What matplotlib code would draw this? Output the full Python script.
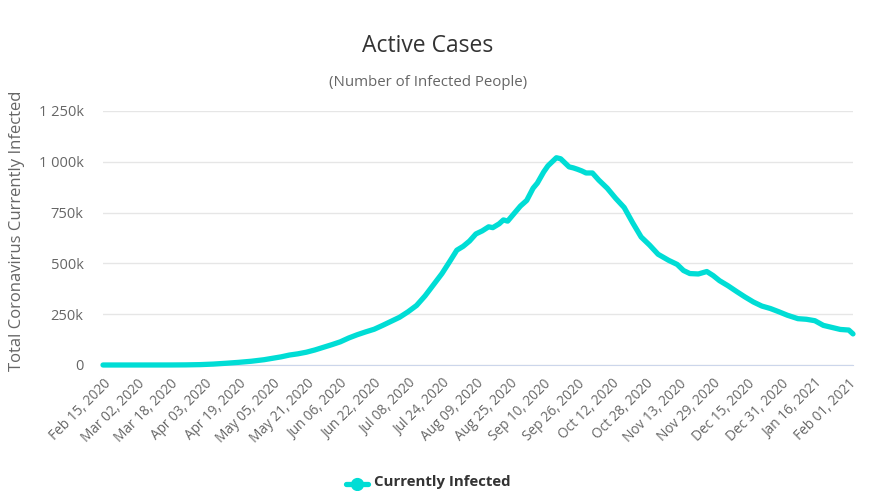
import datetime as dt
import matplotlib
matplotlib.use('Agg')
from matplotlib import pyplot as plt
from matplotlib.lines import Line2D
from matplotlib.transforms import ScaledTranslation

dates = [
    "2020-02-15", "2020-03-01", "2020-03-10", "2020-03-18", "2020-03-25",
    "2020-04-01", "2020-04-07", "2020-04-13", "2020-04-19", "2020-04-25",
    "2020-05-01", "2020-05-05", "2020-05-09", "2020-05-13", "2020-05-17",
    "2020-05-21", "2020-05-25", "2020-05-29", "2020-06-02", "2020-06-06",
    "2020-06-10", "2020-06-14", "2020-06-18", "2020-06-22", "2020-06-26",
    "2020-06-30", "2020-07-04", "2020-07-08", "2020-07-12", "2020-07-16",
    "2020-07-20", "2020-07-24", "2020-07-28", "2020-07-31", "2020-08-03",
    "2020-08-06", "2020-08-09", "2020-08-12", "2020-08-15", "2020-08-17",
    "2020-08-20", "2020-08-22", "2020-08-24", "2020-08-27", "2020-08-30",
    "2020-09-02", "2020-09-05", "2020-09-07", "2020-09-10", "2020-09-12",
    "2020-09-14", "2020-09-16", "2020-09-18", "2020-09-20", "2020-09-22",
    "2020-09-24", "2020-09-26", "2020-09-28", "2020-09-30", "2020-10-03",
    "2020-10-06", "2020-10-10", "2020-10-14", "2020-10-18", "2020-10-22",
    "2020-10-26", "2020-10-30", "2020-11-03", "2020-11-08", "2020-11-12",
    "2020-11-15", "2020-11-18", "2020-11-22", "2020-11-26", "2020-11-29",
    "2020-12-02", "2020-12-06", "2020-12-10", "2020-12-14", "2020-12-18",
    "2020-12-22", "2020-12-26", "2020-12-30", "2021-01-03", "2021-01-08",
    "2021-01-12", "2021-01-16", "2021-01-20", "2021-01-24", "2021-01-28",
    "2021-02-01", "2021-02-03",
]
active_k = [
    0.003, 0.003, 0.05, 0.15, 0.6,
    1.9, 4.5, 8.5, 13, 18.5,
    26, 33, 40, 49, 55,
    63, 74, 87, 100, 114,
    133, 149, 163, 176, 195,
    215, 235, 262, 293, 340,
    395, 450, 515, 565, 584,
    610, 645, 660, 680, 676,
    695, 714, 708, 745, 782,
    810, 870, 895, 950, 980,
    1000, 1020, 1015, 995, 975,
    970, 963, 955, 945, 945,
    910, 870, 820, 775, 700,
    630, 590, 545, 515, 495,
    465, 450, 448, 460, 440,
    415, 390, 362, 335, 310,
    290, 278, 262, 245, 228,
    225, 218, 195, 185, 175,
    172, 153,
]
y_ticks = [0, 250, 500, 750, 1000, 1250]
y_labels = ["0", "250k", "500k", "750k", "1 000k", "1 250k"]

plt.rcParams['font.family'] = ['Open Sans', 'DejaVu Sans']

x = [dt.datetime.strptime(d, "%Y-%m-%d") for d in dates]
start = x[0]
tick_dates = [start + dt.timedelta(days=16 * i) for i in range(23)]

fig = plt.figure(figsize=(8.85, 4.91), dpi=100)
ax = fig.add_axes([103 / 885, 1 - 365 / 491, 750 / 885, 254 / 491])

ax.plot(x, active_k, color="#00ddd5", lw=3.8, solid_joinstyle="round",
        solid_capstyle="round", zorder=3, clip_on=False)

ax.set_xlim(start, x[-1])
ax.set_ylim(0, 1250)
ax.set_yticks(y_ticks)
ax.set_yticklabels(y_labels)
ax.set_xticks(tick_dates)
ax.set_xticklabels([d.strftime("%b %d, %Y") for d in tick_dates],
                   rotation=45, ha="right", rotation_mode="anchor")
shift = ScaledTranslation(-5 / 100, 0, fig.dpi_scale_trans)
for lbl in ax.get_xticklabels():
    lbl.set_transform(lbl.get_transform() + shift)

for s in ["top", "right", "left"]:
    ax.spines[s].set_visible(False)
ax.spines["bottom"].set_color("#ccd6eb")
ax.grid(axis="y", color="#e6e6e6", lw=1)
ax.set_axisbelow(True)
ax.tick_params(axis="both", length=0, colors="#666666")
ax.tick_params(axis="x", pad=8, labelsize=9.8)
ax.tick_params(axis="y", pad=14, labelsize=10.5)

ax.set_ylabel("Total Coronavirus Currently Infected", color="#666666",
              fontsize=12)
ax.yaxis.set_label_coords(-78 / 750, 0.53)

cx = 428 / 885
fig.text(cx, 1 - 46 / 491, "Active Cases", ha="center", va="center",
         fontsize=16.5, color="#333333")
fig.text(cx, 1 - 83 / 491, "(Number of Infected People)", ha="center",
         va="center", fontsize=10.8, color="#666666")

# legend at the bottom
fig.add_artist(Line2D([346 / 885, 368 / 885], [1 - 484 / 491] * 2,
                      transform=fig.transFigure, color="#00ddd5", lw=3.8,
                      solid_capstyle="round"))
fig.add_artist(Line2D([357 / 885], [1 - 484 / 491],
                      transform=fig.transFigure, color="#00ddd5",
                      marker="o", markersize=8.5))
fig.text(374 / 885, 1 - 475 / 491, "Currently Infected", ha="left", va="top",
         fontsize=10.8, fontweight="bold", color="#333333")

fig.savefig("out.png", dpi=100)
